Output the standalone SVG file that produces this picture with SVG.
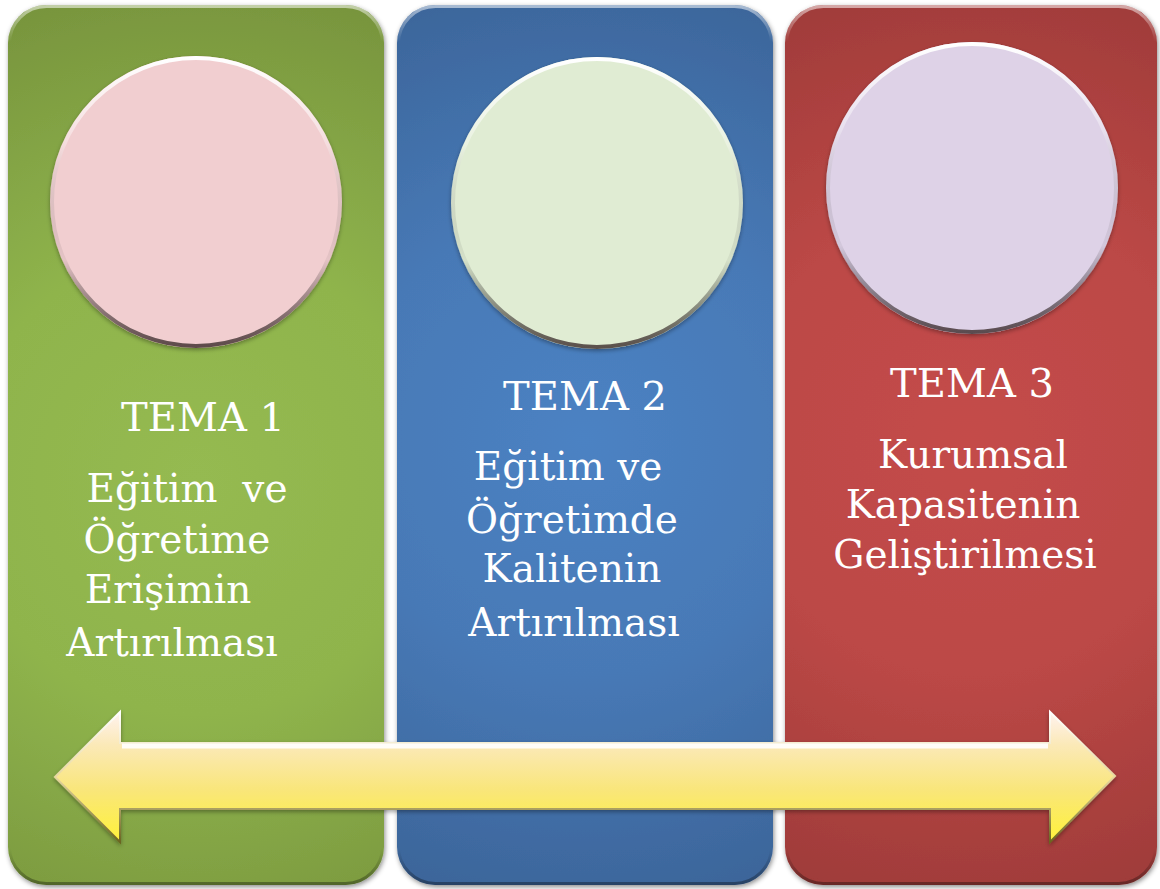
<svg xmlns="http://www.w3.org/2000/svg" width="1160" height="889" viewBox="0 0 1160 889">
<defs>
<style>
.lbl{font-family:"DejaVu Serif","Liberation Serif",serif;fill:#ffffff;text-anchor:middle;font-size:39px}
.ttl{font-size:40px}
.panel{filter:url(#sh)}
.circ{filter:url(#sh2)}
</style>
<filter id="sh" x="-5%" y="-5%" width="110%" height="110%">
<feDropShadow dx="1" dy="2" stdDeviation="2.5" flood-color="#000" flood-opacity="0.45"/>
</filter>
<filter id="sh2" x="-10%" y="-10%" width="120%" height="120%">
<feDropShadow dx="0" dy="2" stdDeviation="2" flood-color="#000" flood-opacity="0.35"/>
</filter>
<radialGradient id="gG" gradientUnits="userSpaceOnUse" cx="196" cy="480" r="520">
<stop offset="0" stop-color="#95BA51"/><stop offset="0.45" stop-color="#8FB44C"/><stop offset="1" stop-color="#76923C"/>
</radialGradient>
<radialGradient id="gB" gradientUnits="userSpaceOnUse" cx="585" cy="440" r="520">
<stop offset="0" stop-color="#4C82C3"/><stop offset="0.45" stop-color="#4779B6"/><stop offset="1" stop-color="#3A6194"/>
</radialGradient>
<radialGradient id="gR" gradientUnits="userSpaceOnUse" cx="971" cy="440" r="520">
<stop offset="0" stop-color="#C44C4A"/><stop offset="0.45" stop-color="#BC4846"/><stop offset="1" stop-color="#993937"/>
</radialGradient>
<linearGradient id="edge" x1="0" y1="0" x2="0" y2="1">
<stop offset="0" stop-color="#ffffff" stop-opacity="0.55"/><stop offset="0.04" stop-color="#ffffff" stop-opacity="0"/><stop offset="0.96" stop-color="#000000" stop-opacity="0"/><stop offset="1" stop-color="#000000" stop-opacity="0.35"/>
</linearGradient>
<linearGradient id="cedge" x1="0" y1="0" x2="0" y2="1">
<stop offset="0" stop-color="#ffffff"/><stop offset="0.3" stop-color="#ffffff" stop-opacity="0.3"/><stop offset="0.7" stop-color="#000000" stop-opacity="0.05"/><stop offset="1" stop-color="#3a2a2a" stop-opacity="0.8"/>
</linearGradient>
<linearGradient id="ay" x1="0" y1="0" x2="0" y2="1">
<stop offset="0" stop-color="#FFF3F0"/><stop offset="0.25" stop-color="#FBE9B8"/><stop offset="0.6" stop-color="#F9E67A"/><stop offset="1" stop-color="#FFF23A"/>
</linearGradient>
<linearGradient id="ae" x1="0" y1="0" x2="0" y2="1">
<stop offset="0" stop-color="#ffffff"/><stop offset="0.5" stop-color="#e8d8a0"/><stop offset="1" stop-color="#6a6420"/>
</linearGradient>
</defs>

<g id="node-tema1">
<rect class="panel" x="8" y="5" width="376" height="880" rx="38" fill="url(#gG)"/>
<rect x="9.5" y="6.5" width="373" height="877" rx="37" fill="none" stroke="url(#edge)" stroke-width="3"/>
<circle class="circ" cx="196" cy="202" r="146" fill="#F1CED0"/>
<circle cx="196" cy="202" r="144" fill="none" stroke="url(#cedge)" stroke-width="4"/>
<text class="lbl ttl" x="203" y="431">TEMA 1</text>
<text class="lbl" x="187" y="502" xml:space="preserve">Eğitim  ve</text>
<text class="lbl" x="177" y="553">Öğretime</text>
<text class="lbl" x="168" y="603">Erişimin</text>
<text class="lbl" x="172" y="656">Artırılması</text>
</g>

<g id="node-tema2">
<rect class="panel" x="397" y="5" width="376" height="880" rx="38" fill="url(#gB)"/>
<rect x="398.5" y="6.5" width="373" height="877" rx="37" fill="none" stroke="url(#edge)" stroke-width="3"/>
<circle class="circ" cx="597" cy="203" r="146" fill="#E0ECD3"/>
<circle cx="597" cy="203" r="144" fill="none" stroke="url(#cedge)" stroke-width="4"/>
<text class="lbl ttl" x="585" y="410">TEMA 2</text>
<text class="lbl" x="568" y="480">Eğitim ve</text>
<text class="lbl" x="572" y="533">Öğretimde</text>
<text class="lbl" x="572" y="582">Kalitenin</text>
<text class="lbl" x="574" y="636">Artırılması</text>
</g>

<g id="node-tema3">
<rect class="panel" x="785" y="5" width="372" height="880" rx="38" fill="url(#gR)"/>
<rect x="786.5" y="6.5" width="369" height="877" rx="37" fill="none" stroke="url(#edge)" stroke-width="3"/>
<circle class="circ" cx="972" cy="188" r="146" fill="#DED2E7"/>
<circle cx="972" cy="188" r="144" fill="none" stroke="url(#cedge)" stroke-width="4"/>
<text class="lbl ttl" x="972" y="397">TEMA 3</text>
<text class="lbl" x="973" y="468">Kurumsal</text>
<text class="lbl" x="963" y="518">Kapasitenin</text>
<text class="lbl" x="965" y="568">Geliştirilmesi</text>
</g>

<g id="connectors">
<path class="circ" d="M55,777 L120,712 L120,743 L1050,743 L1050,712 L1115,776 L1050,842 L1050,809 L120,809 L120,842 Z" fill="url(#ay)" stroke="url(#ae)" stroke-width="2" stroke-linejoin="miter"/>
<path d="M122,746 L1048,746" stroke="#ffffff" stroke-width="5" stroke-opacity="0.9"/>
</g>
</svg>
